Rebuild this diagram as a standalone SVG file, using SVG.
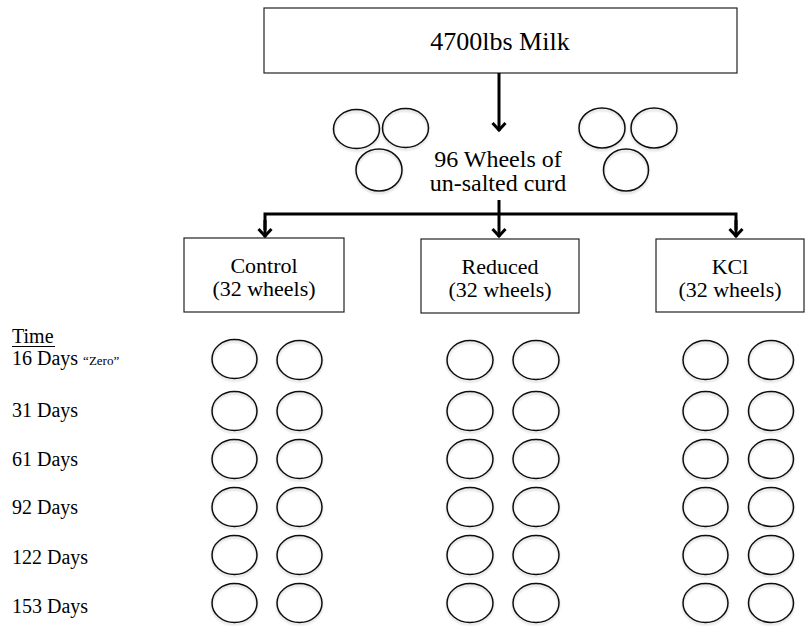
<svg xmlns="http://www.w3.org/2000/svg" width="807" height="626" viewBox="0 0 807 626">
<style>
.box{fill:#fff;stroke:#222;stroke-width:1.2}
text{font-family:"Liberation Serif","Times New Roman",serif;fill:#000}
.w{fill:none;stroke:#111;stroke-width:1.5}
.c{fill:none;stroke:#000;stroke-width:3}
</style>
<defs>
<marker id="ah" viewBox="-10 -9 12 18" markerWidth="12" markerHeight="18" refX="0" refY="0" orient="auto" markerUnits="userSpaceOnUse">
<path d="M-8,-6.5 L-1,0 L-8,6.5" fill="none" stroke="#000" stroke-width="3"/>
</marker>
<filter id="sh" x="-20%" y="-20%" width="140%" height="150%">
<feDropShadow dx="0" dy="2" stdDeviation="1.2" flood-color="#000" flood-opacity="0.18"/>
</filter>
</defs>

<g id="milk">
<rect class="box" x="264" y="8" width="473" height="65"/>
<text x="500" y="50" font-size="26" text-anchor="middle">4700lbs Milk</text>
</g>

<g id="curd">
<g filter="url(#sh)">
<ellipse class="w" cx="356.5" cy="129" rx="23" ry="19.5"/>
<ellipse class="w" cx="405.5" cy="128" rx="23" ry="19.5"/>
<ellipse class="w" cx="379" cy="170" rx="23" ry="21"/>
<ellipse class="w" cx="602" cy="128" rx="23" ry="20"/>
<ellipse class="w" cx="654" cy="128" rx="23" ry="20"/>
<ellipse class="w" cx="626" cy="170" rx="22.5" ry="21"/>
</g>
<text x="498" y="167" font-size="24" text-anchor="middle">96 Wheels of</text>
<text x="498" y="191" font-size="24" text-anchor="middle">un-salted curd</text>
</g>

<g id="control">
<rect class="box" x="184" y="238" width="160" height="74"/>
<text x="264" y="273" font-size="22" text-anchor="middle">Control</text>
<text x="264" y="296" font-size="22" text-anchor="middle">(32 wheels)</text>
</g>
<g id="reduced">
<rect class="box" x="421" y="239" width="158" height="74"/>
<text x="500" y="274" font-size="22" text-anchor="middle">Reduced</text>
<text x="500" y="297" font-size="22" text-anchor="middle">(32 wheels)</text>
</g>
<g id="kcl">
<rect class="box" x="656" y="239" width="148" height="73"/>
<text x="730" y="274" font-size="22" text-anchor="middle">KCl</text>
<text x="730" y="297" font-size="22" text-anchor="middle">(32 wheels)</text>
</g>

<g id="connectors">
<line class="c" x1="499" y1="73" x2="499" y2="131" marker-end="url(#ah)"/>
<line class="c" x1="499" y1="200" x2="499" y2="214"/>
<polyline class="c" points="265,230 265,214 736,214 736,230"/>
<line class="c" x1="265" y1="220" x2="265" y2="237" marker-end="url(#ah)"/>
<line class="c" x1="499" y1="214" x2="499" y2="237" marker-end="url(#ah)"/>
<line class="c" x1="736" y1="220" x2="736" y2="237" marker-end="url(#ah)"/>
</g>

<g id="time-labels">
<text x="12" y="343" font-size="20">Time</text>
<line x1="12" y1="346.5" x2="55" y2="346.5" stroke="#000" stroke-width="1"/>
<text x="12" y="365" font-size="20">16 Days <tspan font-size="13">“Zero”</tspan></text>
<text x="12" y="417" font-size="20">31 Days</text>
<text x="12" y="466" font-size="20">61 Days</text>
<text x="12" y="514" font-size="20">92 Days</text>
<text x="12" y="564" font-size="20">122 Days</text>
<text x="12" y="613" font-size="20">153 Days</text>
</g>

<g id="wheels" filter="url(#sh)">
<g id="row1">
<ellipse class="w" cx="234.5" cy="359" rx="22.5" ry="19.5"/><ellipse class="w" cx="299.5" cy="360" rx="22.5" ry="19.5"/>
<ellipse class="w" cx="470" cy="360" rx="23" ry="19.5"/><ellipse class="w" cx="536" cy="360" rx="23" ry="19.5"/>
<ellipse class="w" cx="705.5" cy="360" rx="22.5" ry="19.5"/><ellipse class="w" cx="771" cy="360" rx="22.5" ry="19.5"/>
</g>
<g id="row2">
<ellipse class="w" cx="234.5" cy="411" rx="22.5" ry="19.5"/><ellipse class="w" cx="299.5" cy="411" rx="22.5" ry="19.5"/>
<ellipse class="w" cx="470" cy="411" rx="23" ry="19.5"/><ellipse class="w" cx="536" cy="411" rx="23" ry="19.5"/>
<ellipse class="w" cx="705.5" cy="411" rx="22.5" ry="19.5"/><ellipse class="w" cx="771" cy="411" rx="22.5" ry="19.5"/>
</g>
<g id="row3">
<ellipse class="w" cx="234.5" cy="459" rx="22.5" ry="19.5"/><ellipse class="w" cx="299.5" cy="459" rx="22.5" ry="19.5"/>
<ellipse class="w" cx="470" cy="459" rx="23" ry="19.5"/><ellipse class="w" cx="536" cy="459" rx="23" ry="19.5"/>
<ellipse class="w" cx="705.5" cy="459" rx="22.5" ry="19.5"/><ellipse class="w" cx="771" cy="459" rx="22.5" ry="19.5"/>
</g>
<g id="row4">
<ellipse class="w" cx="234.5" cy="507" rx="22.5" ry="19.5"/><ellipse class="w" cx="299.5" cy="507" rx="22.5" ry="19.5"/>
<ellipse class="w" cx="470" cy="507" rx="23" ry="19.5"/><ellipse class="w" cx="536" cy="507" rx="23" ry="19.5"/>
<ellipse class="w" cx="705.5" cy="507" rx="22.5" ry="19.5"/><ellipse class="w" cx="771" cy="507" rx="22.5" ry="19.5"/>
</g>
<g id="row5">
<ellipse class="w" cx="234.5" cy="555" rx="22.5" ry="19.5"/><ellipse class="w" cx="299.5" cy="555" rx="22.5" ry="19.5"/>
<ellipse class="w" cx="470" cy="555" rx="23" ry="19.5"/><ellipse class="w" cx="536" cy="555" rx="23" ry="19.5"/>
<ellipse class="w" cx="705.5" cy="555" rx="22.5" ry="19.5"/><ellipse class="w" cx="771" cy="555" rx="22.5" ry="19.5"/>
</g>
<g id="row6">
<ellipse class="w" cx="234.5" cy="603" rx="22.5" ry="19.5"/><ellipse class="w" cx="299.5" cy="603" rx="22.5" ry="19.5"/>
<ellipse class="w" cx="470" cy="603" rx="23" ry="19.5"/><ellipse class="w" cx="536" cy="603" rx="23" ry="19.5"/>
<ellipse class="w" cx="705.5" cy="603" rx="22.5" ry="19.5"/><ellipse class="w" cx="771" cy="603" rx="22.5" ry="19.5"/>
</g>
</g>
</svg>
